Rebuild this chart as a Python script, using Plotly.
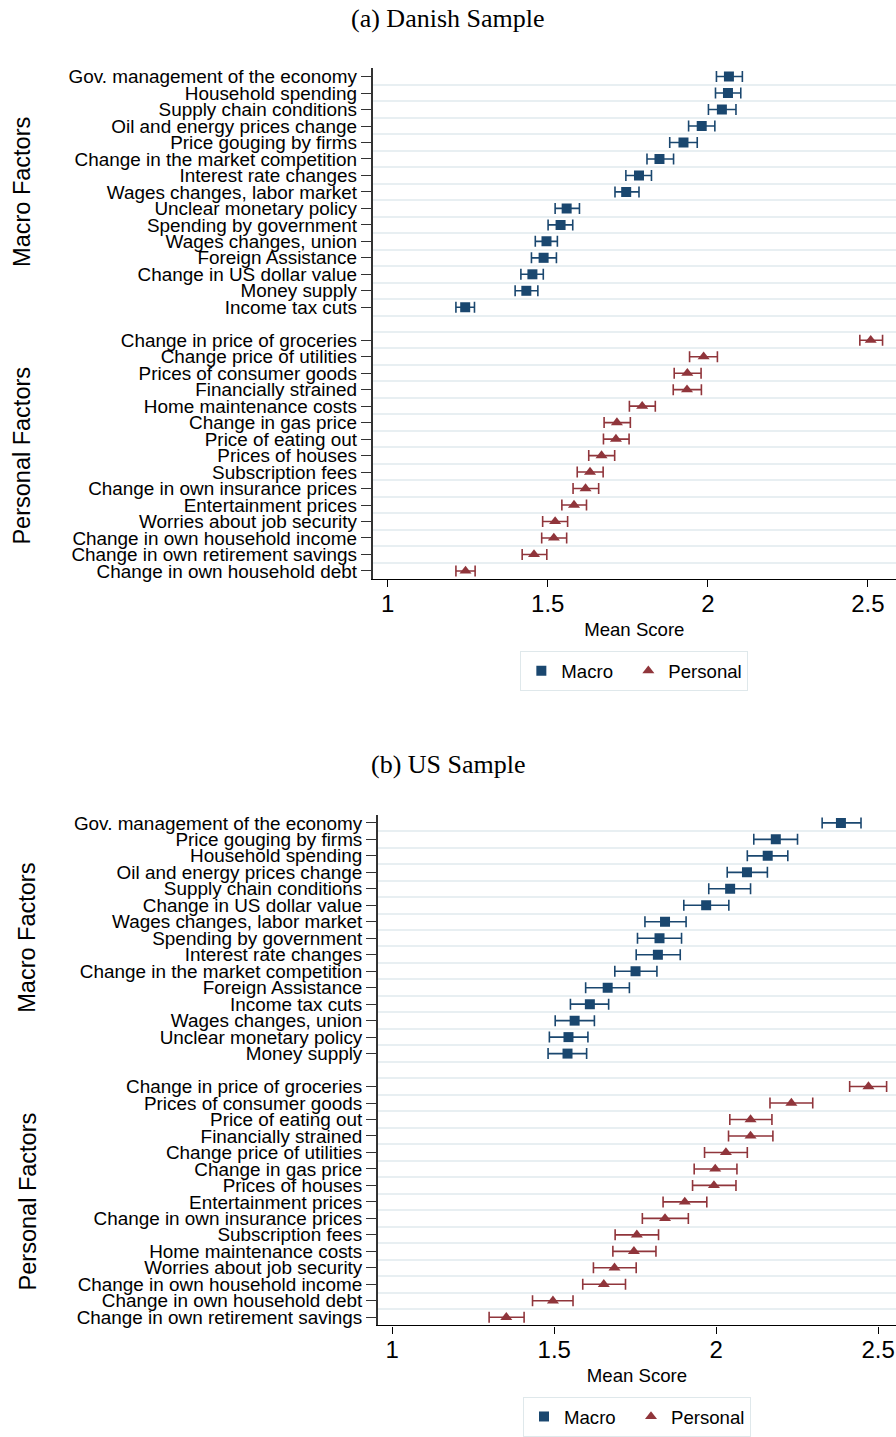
import plotly.graph_objects as go

W, H = 896, 1437

# ---------------- data: (a) Danish sample ----------------
dk_macro_labels = [
    "Gov. management of the economy", "Household spending", "Supply chain conditions",
    "Oil and energy prices change", "Price gouging by firms", "Change in the market competition",
    "Interest rate changes", "Wages changes, labor market", "Unclear monetary policy",
    "Spending by government", "Wages changes, union", "Foreign Assistance",
    "Change in US dollar value", "Money supply", "Income tax cuts",
]
dk_macro_mean = [2.066, 2.063, 2.044, 1.981, 1.924, 1.849, 1.785, 1.745, 1.559, 1.540, 1.496, 1.487, 1.452, 1.433, 1.242]
dk_macro_lo = [2.027, 2.024, 2.002, 1.940, 1.881, 1.810, 1.744, 1.710, 1.523, 1.501, 1.461, 1.449, 1.416, 1.398, 1.213]
dk_macro_hi = [2.108, 2.103, 2.088, 2.022, 1.967, 1.893, 1.824, 1.785, 1.599, 1.578, 1.530, 1.527, 1.486, 1.469, 1.271]

dk_pers_labels = [
    "Change in price of groceries", "Change price of utilities", "Prices of consumer goods",
    "Financially strained", "Home maintenance costs", "Change in gas price", "Price of eating out",
    "Prices of houses", "Subscription fees", "Change in own insurance prices", "Entertainment prices",
    "Worries about job security", "Change in own household income", "Change in own retirement savings",
    "Change in own household debt",
]
dk_pers_mean = [2.509, 1.987, 1.936, 1.935, 1.795, 1.716, 1.713, 1.668, 1.632, 1.618, 1.582, 1.523, 1.519, 1.457, 1.243]
dk_pers_lo = [2.475, 1.943, 1.895, 1.892, 1.755, 1.676, 1.674, 1.628, 1.592, 1.579, 1.544, 1.484, 1.481, 1.420, 1.213]
dk_pers_hi = [2.546, 2.030, 1.979, 1.980, 1.836, 1.758, 1.754, 1.709, 1.673, 1.659, 1.621, 1.562, 1.559, 1.497, 1.273]

# ---------------- data: (b) US sample ----------------
us_macro_labels = [
    "Gov. management of the economy", "Price gouging by firms", "Household spending",
    "Oil and energy prices change", "Supply chain conditions", "Change in US dollar value",
    "Wages changes, labor market", "Spending by government", "Interest rate changes",
    "Change in the market competition", "Foreign Assistance", "Income tax cuts",
    "Wages changes, union", "Unclear monetary policy", "Money supply",
]
us_macro_mean = [2.385, 2.184, 2.159, 2.095, 2.043, 1.969, 1.842, 1.825, 1.820, 1.751, 1.665, 1.610, 1.563, 1.544, 1.541]
us_macro_lo = [2.327, 2.116, 2.096, 2.034, 1.977, 1.900, 1.780, 1.757, 1.753, 1.687, 1.597, 1.550, 1.503, 1.485, 1.481]
us_macro_hi = [2.447, 2.251, 2.221, 2.158, 2.106, 2.039, 1.907, 1.893, 1.889, 1.817, 1.732, 1.668, 1.624, 1.604, 1.600]

us_pers_labels = [
    "Change in price of groceries", "Prices of consumer goods", "Price of eating out",
    "Financially strained", "Change price of utilities", "Change in gas price", "Prices of houses",
    "Entertainment prices", "Change in own insurance prices", "Subscription fees",
    "Home maintenance costs", "Worries about job security", "Change in own household income",
    "Change in own household debt", "Change in own retirement savings",
]
us_pers_mean = [2.470, 2.232, 2.106, 2.106, 2.030, 1.997, 1.993, 1.903, 1.842, 1.755, 1.746, 1.686, 1.653, 1.496, 1.352]
us_pers_lo = [2.412, 2.166, 2.042, 2.038, 1.964, 1.932, 1.927, 1.836, 1.772, 1.688, 1.681, 1.621, 1.588, 1.433, 1.299]
us_pers_hi = [2.526, 2.298, 2.172, 2.175, 2.096, 2.064, 2.061, 1.971, 1.914, 1.822, 1.814, 1.753, 1.720, 1.558, 1.407]

x_tickvals = [1, 1.5, 2, 2.5]
x_ticktext = ["1", "1.5", "2", "2.5"]
series_names = ["Macro", "Personal"]

# ---------------- style ----------------
NAVY = "#1a476f"
MAROON = "#90353b"
GRID = "#e8eff2"
SANS = "Liberation Sans, Arial, sans-serif"
SERIF = "Liberation Serif, Times New Roman, serif"

fig = go.Figure()

panels = [
    dict(title="(a) Danish Sample", title_px=17, top=66.7, bottom=580.4, left=372.7, xr=[0.953, 2.588],
         grp_x=22, legend_top=652.7, legend="legend", xa="x", ya="y", lname="",
         macro=(dk_macro_labels, dk_macro_mean, dk_macro_lo, dk_macro_hi),
         pers=(dk_pers_labels, dk_pers_mean, dk_pers_lo, dk_pers_hi)),
    dict(title="(b) US Sample", title_px=767, top=817.2, bottom=1330.9, left=378.0, xr=[0.956, 2.555],
         grp_x=27.5, legend_top=1402.7, legend="legend2", xa="x2", ya="y2", lname="2",
         macro=(us_macro_labels, us_macro_mean, us_macro_lo, us_macro_hi),
         pers=(us_pers_labels, us_pers_mean, us_pers_lo, us_pers_hi)),
]

for p in panels:
    m_lab, m_mean, m_lo, m_hi = p["macro"]
    q_lab, q_mean, q_lo, q_hi = p["pers"]
    n_m = len(m_lab)
    n_q = len(q_lab)
    m_pos = list(range(n_m))
    q_pos = [n_m + 1 + i for i in range(n_q)]
    n_slots = n_m + 1 + n_q

    for name, lab, mean, lo, hi, pos, col, sym, sz in [
        (series_names[0] + "\u00a0\u00a0", m_lab, m_mean, m_lo, m_hi, m_pos, NAVY, "square", 10),
        (series_names[1], q_lab, q_mean, q_lo, q_hi, q_pos, MAROON, "triangle-up", 10.5),
    ]:
        fig.add_trace(go.Scatter(
            x=mean, y=pos, mode="markers", name=name,
            marker=dict(symbol=sym, size=sz, color=col, line=dict(width=0)),
            error_x=dict(type="data", symmetric=False,
                         array=[h - v for h, v in zip(hi, mean)],
                         arrayminus=[v - l for v, l in zip(mean, lo)],
                         color=col, thickness=1.6, width=5.5),
            xaxis=p["xa"], yaxis=p["ya"], legend=p["legend"],
            hovertext=lab,
        ))

    ln = p["lname"]
    fig.layout["xaxis" + ln] = dict(
        domain=[p["left"] / W, 1.0], range=p["xr"], anchor="y" + ln,
        tickmode="array", tickvals=x_tickvals, ticktext=x_ticktext,
        ticks="outside", ticklen=7, tickwidth=1.3, tickcolor="#000000",
        ticklabelstandoff=-4,
        showline=True, linecolor="#000000", linewidth=1.3, showgrid=False, zeroline=False,
        tickfont=dict(family=SANS, size=24, color="#000000"),
        title=dict(text="Mean Score", font=dict(family=SANS, size=18.6, color="#000000"), standoff=6),
    )
    fig.layout["yaxis" + ln] = dict(
        domain=[1 - p["bottom"] / H, 1 - p["top"] / H], range=[n_slots - 0.5, -0.5],
        anchor="x" + ln, tickmode="array", tickvals=m_pos + q_pos, ticktext=m_lab + q_lab,
        ticks="outside", ticklen=10, tickwidth=1.3, tickcolor="#333333",
        showline=True, linecolor="#333333", linewidth=1.8, showgrid=False, zeroline=False,
        tickfont=dict(family=SANS, size=18.9, color="#000000"),
        minor=dict(tickmode="array", tickvals=[k + 0.5 for k in range(n_slots - 1)],
                   showgrid=True, gridcolor=GRID, gridwidth=2.2, ticks=""),
    )

    fig.layout[p["legend"]] = dict(
        orientation="h", x=(p["left"] + W) / 2 / W, xanchor="center",
        y=1 - p["legend_top"] / H, yanchor="top",
        bordercolor="#dfe8eb", borderwidth=1, bgcolor="#ffffff",
        font=dict(family=SANS, size=18.6, color="#000000"),
        itemwidth=30,
    )

    fig.add_annotation(text=p["title"], x=0.5, y=1 - p["title_px"] / H, xref="paper", yref="paper",
                       xanchor="center", yanchor="middle", showarrow=False,
                       font=dict(family=SERIF, size=26, color="#000000"))
    for gname, gpos in [("Macro Factors", m_pos), ("Personal Factors", q_pos)]:
        fig.add_annotation(text=gname, textangle=-90, x=p["grp_x"] / W, xref="paper",
                           y=sum(gpos) / len(gpos), yref=p["ya"], xanchor="center", yanchor="middle",
                           showarrow=False, font=dict(family=SANS, size=23.5, color="#000000"))

fig.update_layout(
    width=W, height=H, margin=dict(l=0, r=0, t=0, b=0),
    paper_bgcolor="#ffffff", plot_bgcolor="#ffffff", showlegend=True,
)

fig.write_html("out.html")
